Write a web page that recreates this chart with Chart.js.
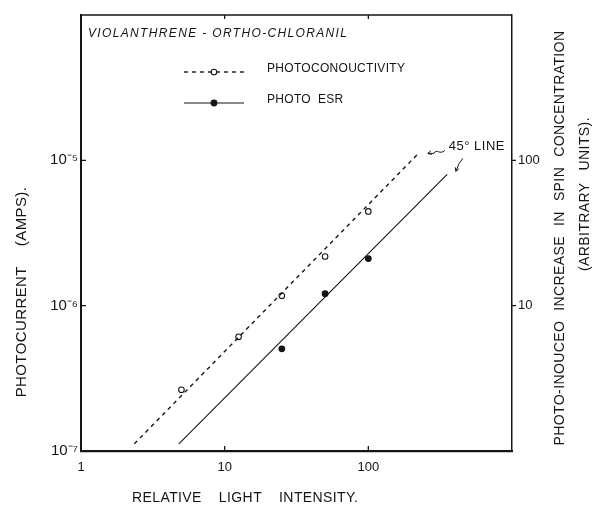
<!DOCTYPE html>
<html><head><meta charset="utf-8">
<script src="https://cdn.jsdelivr.net/npm/chart.js@4/dist/chart.umd.min.js"></script>
<style>html,body{margin:0;padding:0;background:#fff}#wrap{width:593px;height:506px;position:relative}</style>
</head><body><div id="wrap"><canvas id="c" width="593" height="506"></canvas></div>
<script>
// ---- data ----
const intensityPC = [5, 12.5, 25, 50, 100];
const photocurrent = [2.64e-7, 6.1e-7, 1.17e-6, 2.18e-6, 4.45e-6];
const intensityESR = [25, 50, 100];
const spinESR = [5.05, 12.1, 21.1];
const pcLineX = [2.35, 220];
const pcLineY = [1.12e-7, 1.1e-5];
const esrLineX = [4.8, 354];
const esrLineY = [1.12, 80];
const xTicks = [1, 10, 100];
const xTickLabels = ['1', '10', '100'];
const yTicks = [1e-7, 1e-6, 1e-5];
const yTickLabels = ['10\u207B\u2077', '10\u207B\u2076', '10\u207B\u2075'];
const y2Ticks = [10, 100];
const y2TickLabels = ['10', '100'];

const FONT = '"Liberation Sans", Arial, sans-serif';
const INK = '#151515';

function wordsWidth(ctx, words, gap) {
  return words.reduce((s, w) => s + ctx.measureText(w).width, 0) + gap * (words.length - 1);
}
function drawWords(ctx, words, gap, x, y) {
  let cx = x;
  words.forEach(w => { ctx.fillText(w, cx, y); cx += ctx.measureText(w).width + gap; });
}
function arrowHead(ctx, tx, ty, fx, fy, len) {
  const ang = Math.atan2(ty - fy, tx - fx);
  ctx.beginPath();
  ctx.moveTo(tx - len * Math.cos(ang - 0.5), ty - len * Math.sin(ang - 0.5));
  ctx.lineTo(tx, ty);
  ctx.lineTo(tx - len * Math.cos(ang + 0.5), ty - len * Math.sin(ang + 0.5));
  ctx.stroke();
}

const decor = {
  id: 'decor',
  afterDraw(chart) {
    const { ctx, chartArea: a, scales } = chart;
    const sx = scales.x, sy = scales.y, sy2 = scales.y2;
    const ds = chart.data.datasets;
    ctx.save();
    ctx.strokeStyle = INK; ctx.fillStyle = INK;
    // top border
    ctx.lineWidth = 1.5;
    ctx.beginPath(); ctx.moveTo(a.left, a.top); ctx.lineTo(a.right, a.top); ctx.stroke();
    // tick marks
    ctx.lineWidth = 1.3;
    ctx.beginPath();
    sx.ticks.forEach(t => {
      if (t.value <= sx.min) return;
      const px = sx.getPixelForValue(t.value);
      ctx.moveTo(px, a.bottom); ctx.lineTo(px, a.bottom - 5);
      ctx.moveTo(px, a.top); ctx.lineTo(px, a.top + 4);
    });
    sy.ticks.forEach(t => {
      if (t.value <= sy.min) return;
      const py = sy.getPixelForValue(t.value);
      ctx.moveTo(a.left, py); ctx.lineTo(a.left + 5, py);
    });
    sy2.ticks.forEach(t => {
      const py = sy2.getPixelForValue(t.value);
      ctx.moveTo(a.right, py); ctx.lineTo(a.right + 4, py);
    });
    ctx.stroke();

    // italic title inside
    ctx.textBaseline = 'middle'; ctx.textAlign = 'left';
    ctx.font = 'italic 12px ' + FONT;
    ctx.letterSpacing = '1.35px';
    ctx.fillText('VIOLANTHRENE - ORTHO-CHLORANIL', a.left + 7, a.top + 19);

    // legend
    const lx0 = a.left + 103, lx1 = a.left + 163, lm = (lx0 + lx1) / 2;
    const ly1 = a.top + 57, ly2 = a.top + 88;
    ctx.lineWidth = ds[0].borderWidth; ctx.setLineDash(ds[0].borderDash);
    ctx.beginPath(); ctx.moveTo(lx0, ly1); ctx.lineTo(lx1, ly1); ctx.stroke();
    ctx.setLineDash([]);
    ctx.lineWidth = ds[1].borderWidth;
    ctx.beginPath(); ctx.moveTo(lx0, ly2); ctx.lineTo(lx1, ly2); ctx.stroke();
    ctx.beginPath(); ctx.arc(lm, ly1, ds[2].pointRadius, 0, Math.PI * 2);
    ctx.fillStyle = '#fff'; ctx.fill(); ctx.lineWidth = ds[2].pointBorderWidth; ctx.stroke();
    ctx.fillStyle = INK;
    ctx.beginPath(); ctx.arc(lm, ly2, ds[3].pointRadius, 0, Math.PI * 2); ctx.fill();
    ctx.font = '12px ' + FONT; ctx.letterSpacing = '0.3px';
    ctx.fillText(ds[2].label, a.left + 186, ly1 - 3);
    drawWords(ctx, ds[3].label.split(' '), 7, a.left + 186, ly2 - 3);

    // 45 degree annotation
    ctx.font = '13px ' + FONT; ctx.letterSpacing = '0.5px';
    const lbl = '45\u00B0 LINE';
    const lw = ctx.measureText(lbl).width;
    const L = a.right - 7 - lw;
    const yy = sy.getPixelForValue(1e-5) - 14;
    ctx.fillText(lbl, L, yy);
    ctx.lineWidth = 1;
    // squiggle arrow to the dashed line
    const s1x = L - 4, s1y = yy + 4, t1x = L - 21, t1y = yy + 7;
    ctx.beginPath();
    ctx.moveTo(s1x, s1y);
    ctx.bezierCurveTo(s1x - 5, s1y + 5, s1x - 8, s1y - 2, s1x - 11, s1y + 3);
    ctx.quadraticCurveTo(t1x + 3, t1y, t1x, t1y);
    ctx.stroke();
    arrowHead(ctx, t1x, t1y, t1x + 5, t1y - 1, 4);
    // arrow to the solid line
    const s2x = L + 14, s2y = yy + 12, t2x = L + 7, t2y = yy + 25;
    ctx.beginPath();
    ctx.moveTo(s2x, s2y);
    ctx.quadraticCurveTo(s2x - 4, s2y + 4, t2x, t2y);
    ctx.stroke();
    arrowHead(ctx, t2x, t2y, t2x + 2, t2y - 5, 4);

    // axis titles
    ctx.letterSpacing = '0.4px';
    // left
    ctx.font = '15px ' + FONT;
    let w = ['PHOTOCURRENT', '(AMPS).'];
    let tw = wordsWidth(ctx, w, 20);
    ctx.save(); ctx.translate(22, 292); ctx.rotate(-Math.PI / 2);
    drawWords(ctx, w, 20, -tw / 2, 0); ctx.restore();
    // right line 1
    ctx.font = '14px ' + FONT;
    w = ['PHOTO-INOUCEO', 'INCREASE', 'IN', 'SPIN', 'CONCENTRATION'];
    tw = wordsWidth(ctx, w, 10);
    ctx.save(); ctx.translate(560, 238); ctx.rotate(-Math.PI / 2);
    drawWords(ctx, w, 10, -tw / 2, 0); ctx.restore();
    // right line 2
    w = ['(ARBITRARY', 'UNITS).'];
    tw = wordsWidth(ctx, w, 12);
    ctx.save(); ctx.translate(585, 194); ctx.rotate(-Math.PI / 2);
    drawWords(ctx, w, 12, -tw / 2, 0); ctx.restore();
    // bottom
    ctx.font = '14px ' + FONT;
    drawWords(ctx, ['RELATIVE', 'LIGHT', 'INTENSITY.'], 17, 132, 498);
    ctx.restore();
  }
};

const tickFont = { family: FONT, size: 13 };
new Chart(document.getElementById('c'), {
  type: 'scatter',
  data: {
    datasets: [
      { label: 'pc fit', data: pcLineX.map((x, i) => ({ x, y: pcLineY[i] })), yAxisID: 'y',
        showLine: true, borderColor: INK, borderWidth: 1.4, borderDash: [4, 4], pointRadius: 0 },
      { label: 'esr fit', data: esrLineX.map((x, i) => ({ x, y: esrLineY[i] })), yAxisID: 'y2',
        showLine: true, borderColor: INK, borderWidth: 1.1, pointRadius: 0 },
      { label: 'PHOTOCONOUCTIVITY', data: intensityPC.map((x, i) => ({ x, y: photocurrent[i] })), yAxisID: 'y',
        showLine: false, pointRadius: 2.8, pointBackgroundColor: '#fff', pointBorderColor: INK, pointBorderWidth: 1.1 },
      { label: 'PHOTO ESR', data: intensityESR.map((x, i) => ({ x, y: spinESR[i] })), yAxisID: 'y2',
        showLine: false, pointRadius: 3.4, pointBackgroundColor: INK, pointBorderColor: INK, pointBorderWidth: 0 }
    ]
  },
  options: {
    responsive: false, animation: false, devicePixelRatio: 1,
    layout: { padding: { top: 15, left: 0, right: 0, bottom: 0 } },
    plugins: { legend: { display: false }, tooltip: { enabled: false } },
    scales: {
      x: {
        type: 'logarithmic', position: 'bottom', min: 1, max: 1000,
        afterBuildTicks: s => { s.ticks = xTicks.map(v => ({ value: v })); },
        afterFit: s => { s.height = 55; },
        grid: { display: false, drawTicks: false },
        border: { display: true, color: INK, width: 2.2 },
        ticks: { autoSkip: false, maxRotation: 0, color: INK, font: tickFont, padding: 9,
          callback: (v, i) => xTickLabels[i] }
      },
      y: {
        type: 'logarithmic', position: 'left', min: 1e-7, max: 1e-4,
        afterBuildTicks: s => { s.ticks = yTicks.map(v => ({ value: v })); },
        afterFit: s => { s.width = 81; },
        grid: { display: false, drawTicks: false },
        border: { display: true, color: INK, width: 2 },
        ticks: { autoSkip: false, color: INK, font: { family: FONT, size: 15 }, padding: 3,
          callback: (v, i) => yTickLabels[i] }
      },
      y2: {
        type: 'logarithmic', position: 'right', min: 1, max: 1000,
        afterBuildTicks: s => { s.ticks = y2Ticks.map(v => ({ value: v })); },
        afterFit: s => { s.width = 81; },
        grid: { display: false, drawTicks: false },
        border: { display: true, color: INK, width: 1.5 },
        ticks: { autoSkip: false, color: INK, font: tickFont, padding: 6,
          callback: (v, i) => y2TickLabels[i] }
      }
    }
  },
  plugins: [decor]
});
</script>
</body></html>
